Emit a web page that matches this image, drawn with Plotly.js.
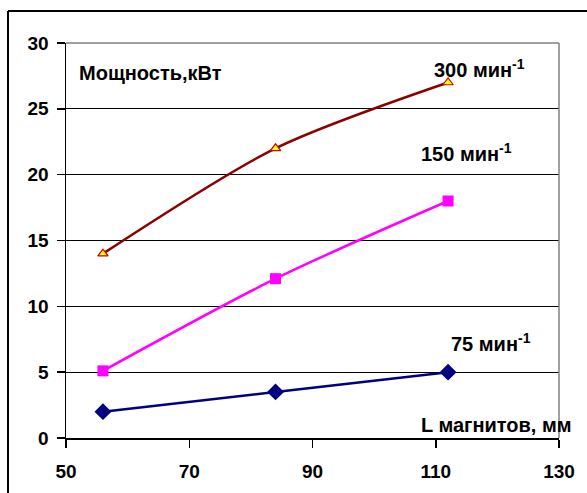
<!DOCTYPE html>
<html>
<head>
<meta charset="utf-8">
<script src="https://cdn.plot.ly/plotly-3.0.1.min.js"></script>
<style>
html,body{margin:0;padding:0;background:#fff;}
#chart{width:587px;height:493px;}
</style>
</head>
<body>
<div id="chart"></div>
<script>
// Data
const lengths = [56, 84, 112];
const power300 = [14, 22, 27];
const power150 = [5.1, 12.1, 18];
const power75 = [2, 3.5, 5];
const seriesNames = ['300 мин<sup>-1</sup>', '150 мин<sup>-1</sup>', '75 мин<sup>-1</sup>'];
const xTicks = [50, 70, 90, 110, 130];
const yTicks = [0, 5, 10, 15, 20, 25, 30];
const yTitle = 'Мощность,кВт';
const xTitle = 'L магнитов, мм';

const FONT = 'Liberation Sans, Arial, sans-serif';

const traces = [
  {
    x: lengths, y: power300, name: seriesNames[0], mode: 'lines+markers',
    line: {color: '#8B0000', width: 2.5, shape: 'spline', smoothing: 0.8},
    marker: {symbol: 'triangle-up', size: 9, color: '#FFFF00', line: {color: '#CC0000', width: 1.2}}
  },
  {
    x: lengths, y: power150, name: seriesNames[1], mode: 'lines+markers',
    line: {color: '#FF00FF', width: 2.5, shape: 'spline', smoothing: 0.8},
    marker: {symbol: 'square', size: 11, color: '#FF00FF'}
  },
  {
    x: lengths, y: power75, name: seriesNames[2], mode: 'lines+markers',
    line: {color: '#000080', width: 2.5, shape: 'spline', smoothing: 0.8},
    marker: {symbol: 'diamond', size: 13, color: '#000080'}
  }
];

const annFont = {family: FONT, size: 20, color: '#000'};
const tickFont = {family: FONT, size: 19, color: '#000', weight: 700};
const PW = 493, PH = 395, ML = 66, MT = 43;
const px = v => (v - ML) / PW;
const py = v => 1 - (v - MT) / PH;

const layout = {
  width: 587, height: 493,
  margin: {l: 66, r: 28, t: 43, b: 55},
  paper_bgcolor: '#fff', plot_bgcolor: '#fff',
  showlegend: false,
  font: {family: FONT, size: 19, color: '#000'},
  xaxis: {
    range: [50, 130], tickvals: xTicks, ticktext: xTicks.map(v => '<b>' + v + '</b>'),
    showgrid: false, zeroline: false,
    showline: true, linecolor: '#000', linewidth: 1.5,
    ticks: 'outside', ticklen: 8, tickcolor: '#000', tickwidth: 1.5,
    tickfont: tickFont,
    ticklabelstandoff: 8
  },
  yaxis: {
    range: [0, 30], tickvals: yTicks, ticktext: yTicks.map(v => '<b>' + v + '</b>'),
    showgrid: true, gridcolor: '#000', gridwidth: 1,
    zeroline: false,
    showline: true, linecolor: '#000', linewidth: 1.5,
    ticks: 'outside', ticklen: 8, tickcolor: '#000', tickwidth: 1.5,
    tickfont: tickFont,
    ticklabelstandoff: 4
  },
  shapes: [
    // plot area top and right border (gray)
    {type: 'line', xref: 'paper', yref: 'paper', x0: 0, x1: 1, y0: 1, y1: 1, line: {color: '#808080', width: 1.5}},
    {type: 'line', xref: 'paper', yref: 'paper', x0: 1, x1: 1, y0: 0, y1: 1, line: {color: '#808080', width: 1.5}},
    // outer frame
    {type: 'line', xref: 'paper', yref: 'paper', x0: px(8), x1: 1.1, y0: py(11), y1: py(11), line: {color: '#000', width: 2}},
    {type: 'line', xref: 'paper', yref: 'paper', x0: px(8), x1: px(8), y0: py(11), y1: -0.2, line: {color: '#000', width: 2}}
  ],
  annotations: [
    {text: '<b>' + yTitle + '</b>', xref: 'paper', yref: 'paper', x: px(77), y: py(73), xanchor: 'left', yanchor: 'middle', showarrow: false, font: annFont},
    {text: '<b>' + xTitle + '</b>', xref: 'paper', yref: 'paper', x: px(574), y: py(425), xanchor: 'right', yanchor: 'middle', showarrow: false, font: annFont},
    {text: '<b>' + seriesNames[0] + '</b>', xref: 'paper', yref: 'paper', x: px(432), y: py(68), xanchor: 'left', yanchor: 'middle', showarrow: false, font: annFont},
    {text: '<b>' + seriesNames[1] + '</b>', xref: 'paper', yref: 'paper', x: px(419), y: py(153), xanchor: 'left', yanchor: 'middle', showarrow: false, font: annFont},
    {text: '<b>' + seriesNames[2] + '</b>', xref: 'paper', yref: 'paper', x: px(449), y: py(342), xanchor: 'left', yanchor: 'middle', showarrow: false, font: annFont},
    // cropped caption letter at very top (only its descender is visible)
    {text: 'р', xref: 'paper', yref: 'paper', x: px(122), y: py(2), xanchor: 'left', yanchor: 'bottom', showarrow: false, font: {family: 'Liberation Serif, Times New Roman, serif', size: 22, color: '#000'}}
  ]
};

Plotly.newPlot('chart', traces, layout, {displayModeBar: false, staticPlot: true});
</script>
</body>
</html>
